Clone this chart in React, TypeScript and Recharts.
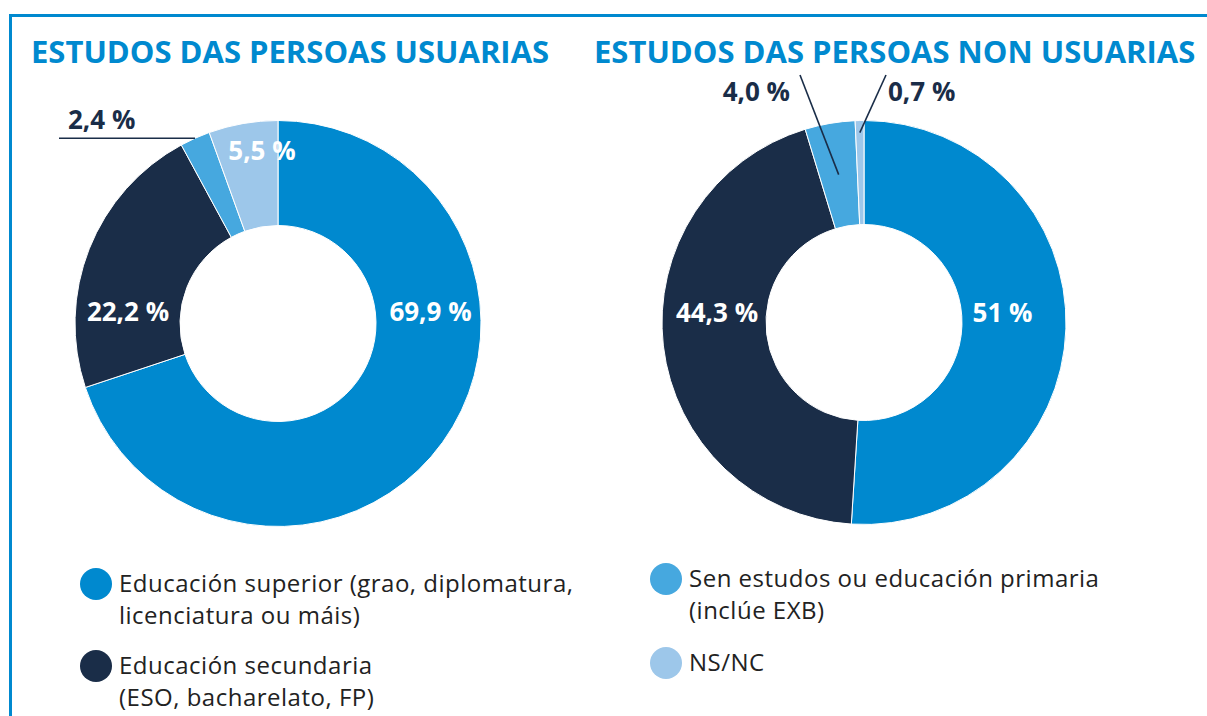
import React from 'react';
import { PieChart, Pie, Cell } from 'recharts';

// ---------- data ----------
const categories = [
  'Educación superior',
  'Educación secundaria',
  'Sen estudos ou educación primaria',
  'NS/NC',
];
const legendLines = [
  ['Educación superior (grao, diplomatura,', 'licenciatura ou máis)'],
  ['Educación secundaria', '(ESO, bacharelato, FP)'],
  ['Sen estudos ou educación primaria', '(inclúe EXB)'],
  ['NS/NC'],
];
const usuariasValues = [69.9, 22.2, 2.4, 5.5];
const nonUsuariasValues = [51, 44.3, 4.0, 0.7];
const usuariasLabels = ['69,9 %', '22,2 %', '2,4 %', '5,5 %'];
const nonUsuariasLabels = ['51 %', '44,3 %', '4,0 %', '0,7 %'];
const titles = ['ESTUDOS DAS PERSOAS USUARIAS', 'ESTUDOS DAS PERSOAS NON USUARIAS'];

// ---------- style ----------
const COLORS = ['#0089CF', '#1A2D48', '#46A8DF', '#9DC7EA'];
const BLUE = '#0089CF';
const NAVY = '#1A2D48';
const FONT = '"Open Sans", "Noto Sans", sans-serif';

const W = 1207;
const H = 716;

const leftPie = { cx: 278, cy: 323.5, inner: 98, outer: 203 };
const rightPie = { cx: 864, cy: 322.5, inner: 98, outer: 202 };

type Placement = {
  dx: number;
  dy: number;
  anchor: 'start' | 'middle' | 'end';
  color: string;
  line?: { kind: 'horizontal'; toDx: number } | { kind: 'radial'; r: number; toDx: number; toDy: number };
};

const leftPlacements: Placement[] = [
  { dx: 152.5, dy: -2.5, anchor: 'middle', color: '#ffffff' },
  { dx: -150, dy: -2.5, anchor: 'middle', color: '#ffffff' },
  { dx: -210, dy: -194.5, anchor: 'start', color: NAVY, line: { kind: 'horizontal', toDx: -219 } },
  { dx: -16, dy: -163.5, anchor: 'middle', color: '#ffffff' },
];
const rightPlacements: Placement[] = [
  { dx: 138.5, dy: -1, anchor: 'middle', color: '#ffffff' },
  { dx: -147, dy: -1, anchor: 'middle', color: '#ffffff' },
  { dx: -74, dy: -221.5, anchor: 'end', color: NAVY, line: { kind: 'radial', r: 150, toDx: -64, toDy: -247.5 } },
  { dx: 24, dy: -221.5, anchor: 'start', color: NAVY, line: { kind: 'radial', r: 190, toDx: 22, toDy: -247.5 } },
];

const RAD = Math.PI / 180;

function makeLabel(placements: Placement[], texts: string[], center: { cx: number; cy: number; outer: number }) {
  return (props: any) => {
    const i: number = props.index;
    const p = placements[i];
    const cx = typeof props.cx === 'number' ? props.cx : center.cx;
    const cy = typeof props.cy === 'number' ? props.cy : center.cy;
    const mid: number = props.midAngle;
    const outer = typeof props.outerRadius === 'number' ? props.outerRadius : center.outer;
    let lineEl: React.ReactNode = null;
    if (p.line) {
      if (p.line.kind === 'horizontal') {
        const x1 = cx + outer * Math.cos(-mid * RAD);
        const y1 = cy + outer * Math.sin(-mid * RAD);
        lineEl = <line x1={x1} y1={y1} x2={cx + p.line.toDx} y2={y1} stroke={NAVY} strokeWidth={1.6} />;
      } else {
        const x1 = cx + p.line.r * Math.cos(-mid * RAD);
        const y1 = cy + p.line.r * Math.sin(-mid * RAD);
        lineEl = (
          <line x1={x1} y1={y1} x2={cx + p.line.toDx} y2={cy + p.line.toDy} stroke={NAVY} strokeWidth={1.6} />
        );
      }
    }
    return (
      <g key={`lbl-${i}`}>
        {lineEl}
        <text
          x={cx + p.dx}
          y={cy + p.dy}
          textAnchor={p.anchor}
          fill={p.color}
          fontFamily={FONT}
          fontWeight={700}
          fontSize={26}
        >
          {texts[i]}
        </text>
      </g>
    );
  };
}

const leftData = categories.map((name, i) => ({ name, value: usuariasValues[i] }));
const rightData = categories.map((name, i) => ({ name, value: nonUsuariasValues[i] }));

const legendPos = [
  { cx: 96, cy: 584, x: 119, y: 592 },
  { cx: 96, cy: 666, x: 119, y: 674 },
  { cx: 666, cy: 579, x: 689, y: 587 },
  { cx: 666, cy: 663, x: 689, y: 671 },
];

export default function App() {
  return (
    <div style={{ position: 'absolute', left: 0, top: 0, width: W, height: H, background: '#fff', overflow: 'hidden' }}>
      <div style={{ position: 'absolute', left: 0, top: 0 }}>
        <PieChart width={W} height={H} margin={{ top: 0, right: 0, bottom: 0, left: 0 }}>
          <Pie
            data={leftData}
            dataKey="value"
            nameKey="name"
            cx={leftPie.cx}
            cy={leftPie.cy}
            innerRadius={leftPie.inner}
            outerRadius={leftPie.outer}
            startAngle={90}
            endAngle={-270}
            stroke="#ffffff"
            strokeWidth={1}
            labelLine={false}
            label={makeLabel(leftPlacements, usuariasLabels, leftPie)}
            isAnimationActive={false}
          >
            {leftData.map((d, i) => (
              <Cell key={d.name} fill={COLORS[i]} />
            ))}
          </Pie>
          <Pie
            data={rightData}
            dataKey="value"
            nameKey="name"
            cx={rightPie.cx}
            cy={rightPie.cy}
            innerRadius={rightPie.inner}
            outerRadius={rightPie.outer}
            startAngle={90}
            endAngle={-270}
            stroke="#ffffff"
            strokeWidth={1}
            labelLine={false}
            label={makeLabel(rightPlacements, nonUsuariasLabels, rightPie)}
            isAnimationActive={false}
          >
            {rightData.map((d, i) => (
              <Cell key={d.name} fill={COLORS[i]} />
            ))}
          </Pie>
        </PieChart>
      </div>
      <svg
        width={W}
        height={H}
        style={{ position: 'absolute', left: 0, top: 0, pointerEvents: 'none' }}
      >
        <rect x={9} y={14} width={W - 9} height={3} fill={BLUE} />
        <rect x={9} y={14} width={3} height={H - 14} fill={BLUE} />
        <text x={31} y={63} fill={BLUE} fontFamily={FONT} fontWeight={700} fontSize={31}>
          {titles[0]}
        </text>
        <text x={594} y={63} fill={BLUE} fontFamily={FONT} fontWeight={700} fontSize={31}>
          {titles[1]}
        </text>
        {legendLines.map((lines, i) => (
          <g key={`leg-${i}`}>
            <circle cx={legendPos[i].cx} cy={legendPos[i].cy} r={16} fill={COLORS[i]} />
            {lines.map((t, j) => (
              <text
                key={j}
                x={legendPos[i].x}
                y={legendPos[i].y + j * 32}
                fill="#222222"
                fontFamily={FONT}
                fontSize={24}
                letterSpacing={0.5}
              >
                {t}
              </text>
            ))}
          </g>
        ))}
      </svg>
    </div>
  );
}
